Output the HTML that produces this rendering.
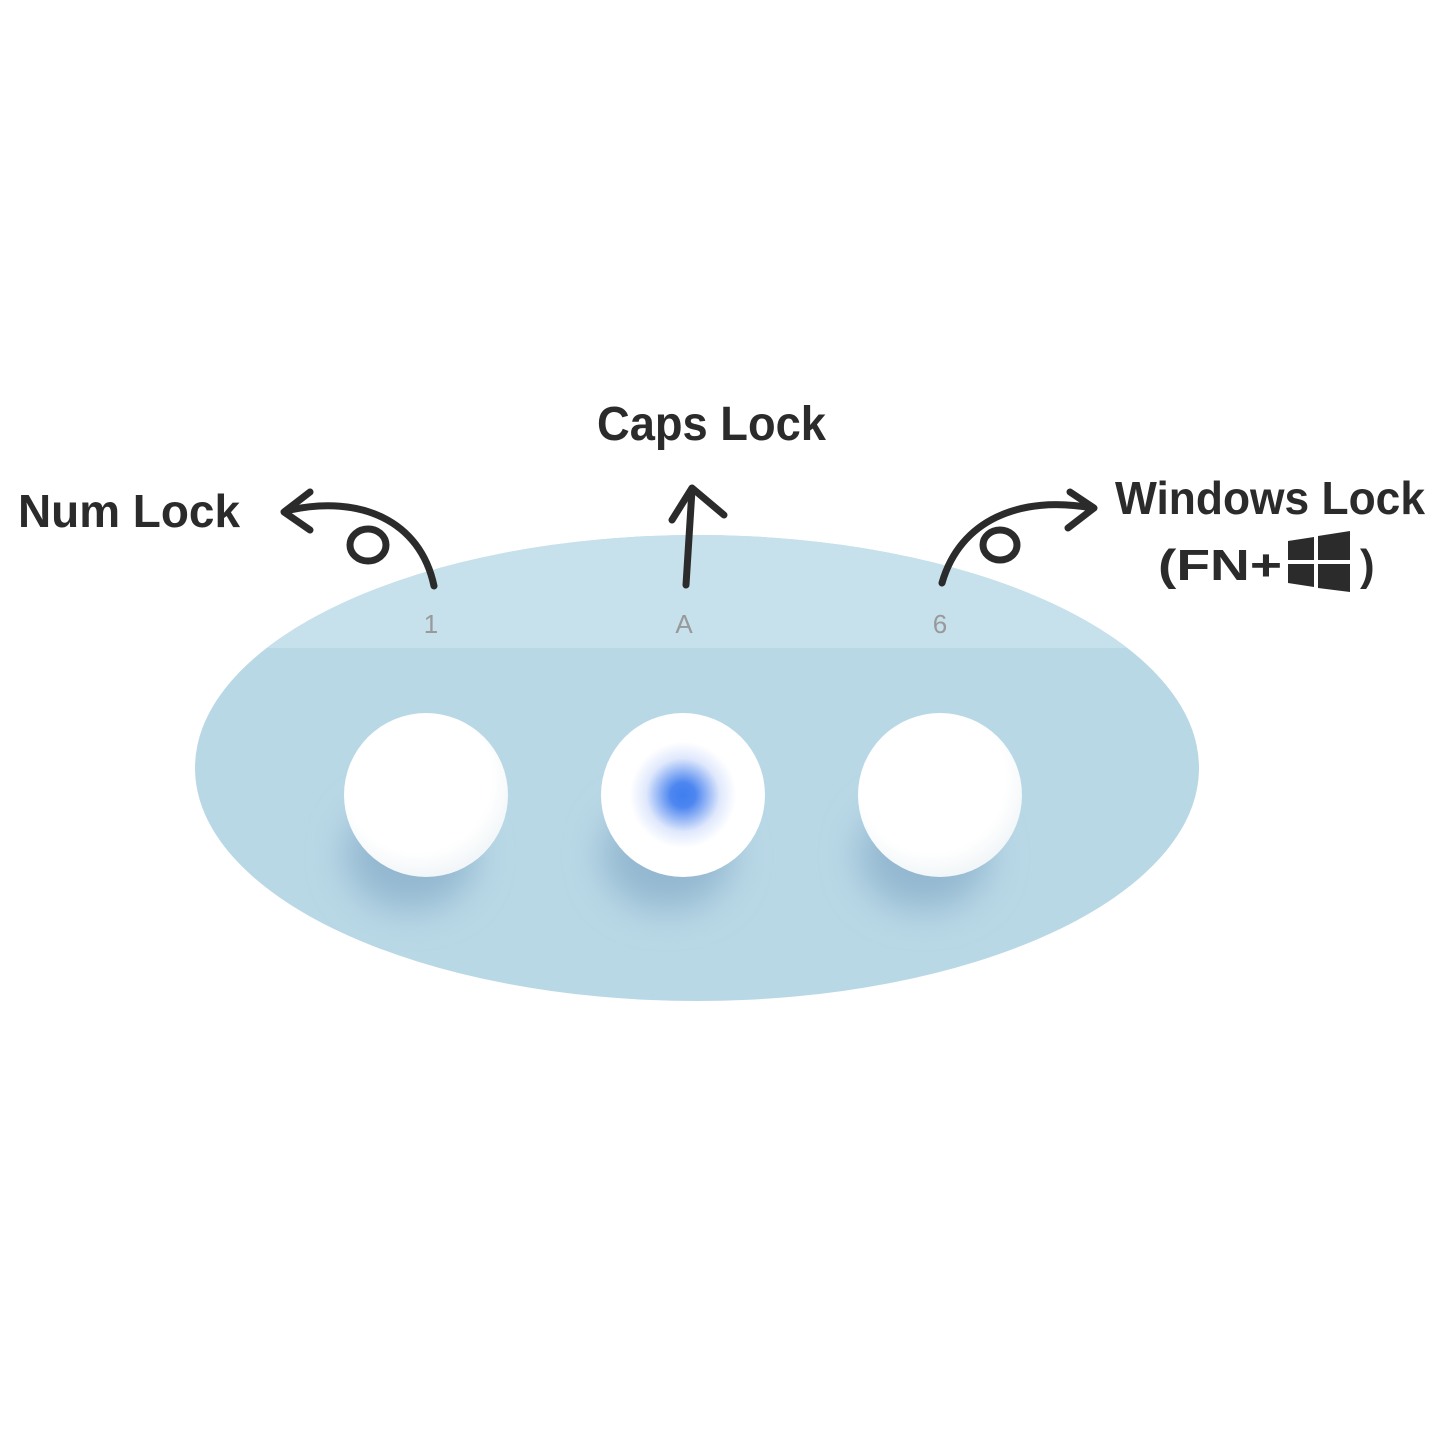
<!DOCTYPE html>
<html><head><style>
body{margin:0;background:#fff;width:1445px;height:1445px;overflow:hidden;position:relative;font-family:"Liberation Sans",sans-serif}
</style></head><body>
<svg width="1445" height="1445" viewBox="0 0 1445 1445" style="position:absolute;left:0;top:0">
<defs>
<clipPath id="ec"><ellipse cx="697" cy="768" rx="502" ry="233"/></clipPath>
<radialGradient id="blue" cx="50%" cy="50%" r="50%">
<stop offset="0" stop-color="#3f7ef0"/><stop offset="0.15" stop-color="#4d86f0"/><stop offset="0.45" stop-color="#dfe8fc"/><stop offset="0.65" stop-color="#fff"/><stop offset="1" stop-color="#fff"/></radialGradient>
<radialGradient id="white" cx="45%" cy="40%" r="60%"><stop offset="0.75" stop-color="#fff"/><stop offset="1" stop-color="#f2f6f8"/></radialGradient>
<filter id="bl" x="-100%" y="-100%" width="300%" height="300%"><feGaussianBlur stdDeviation="18"/></filter>
</defs>
<g clip-path="url(#ec)">
<rect x="190" y="530" width="1020" height="480" fill="#b9d8e6"/>
<rect x="190" y="530" width="1020" height="118" fill="#c6e1ec"/>
<ellipse cx="410" cy="855" rx="65" ry="55" fill="#93b7d0" filter="url(#bl)"/>
<ellipse cx="667" cy="855" rx="65" ry="55" fill="#93b7d0" filter="url(#bl)"/>
<ellipse cx="924" cy="855" rx="65" ry="55" fill="#93b7d0" filter="url(#bl)"/>
</g>
<circle cx="426" cy="795" r="82" fill="url(#white)"/>
<circle cx="683" cy="795" r="82" fill="url(#blue)"/>
<circle cx="940" cy="795" r="82" fill="url(#white)"/>
<g font-family="Liberation Sans" font-size="26" fill="#999" text-anchor="middle">
<text x="431" y="633">1</text><text x="684" y="633">A</text><text x="940" y="633">6</text>
</g>
<g fill="none" stroke="#2b2b2b" stroke-width="7" stroke-linecap="round" stroke-linejoin="round">
<path d="M434 586 C420 520 360 495 290 510"/>
<path d="M310 492 L284 512 L310 530"/>
<ellipse cx="368" cy="545" rx="18" ry="16"/>
<path d="M686 585 L692 490"/>
<path d="M672 520 L692 488 L724 515"/>
<path d="M942 583 C960 520 1020 495 1092 508"/>
<path d="M1070 492 L1094 508 L1068 528"/>
<ellipse cx="1000" cy="545" rx="17" ry="15"/>
</g>
<g font-family="Liberation Sans" font-weight="bold" fill="#2b2b2b">
<text x="18" y="527" font-size="46" textLength="222" lengthAdjust="spacingAndGlyphs">Num Lock</text>
<text x="597" y="440" font-size="48" textLength="229" lengthAdjust="spacingAndGlyphs">Caps Lock</text>
<text x="1115" y="514" font-size="46" textLength="310" lengthAdjust="spacingAndGlyphs">Windows Lock</text>
<text x="1158" y="580" font-size="44" textLength="124" lengthAdjust="spacingAndGlyphs">(FN+</text>
<text x="1360" y="580" font-size="44">)</text>
</g>
<g fill="#2b2b2b">
<polygon points="1288,541 1314,537 1314,560 1288,560"/>
<polygon points="1318,536 1350,531 1350,560 1318,560"/>
<polygon points="1288,564 1314,564 1314,587 1288,583"/>
<polygon points="1318,564 1350,564 1350,592 1318,588"/>
</g>
</svg>
</body></html>
